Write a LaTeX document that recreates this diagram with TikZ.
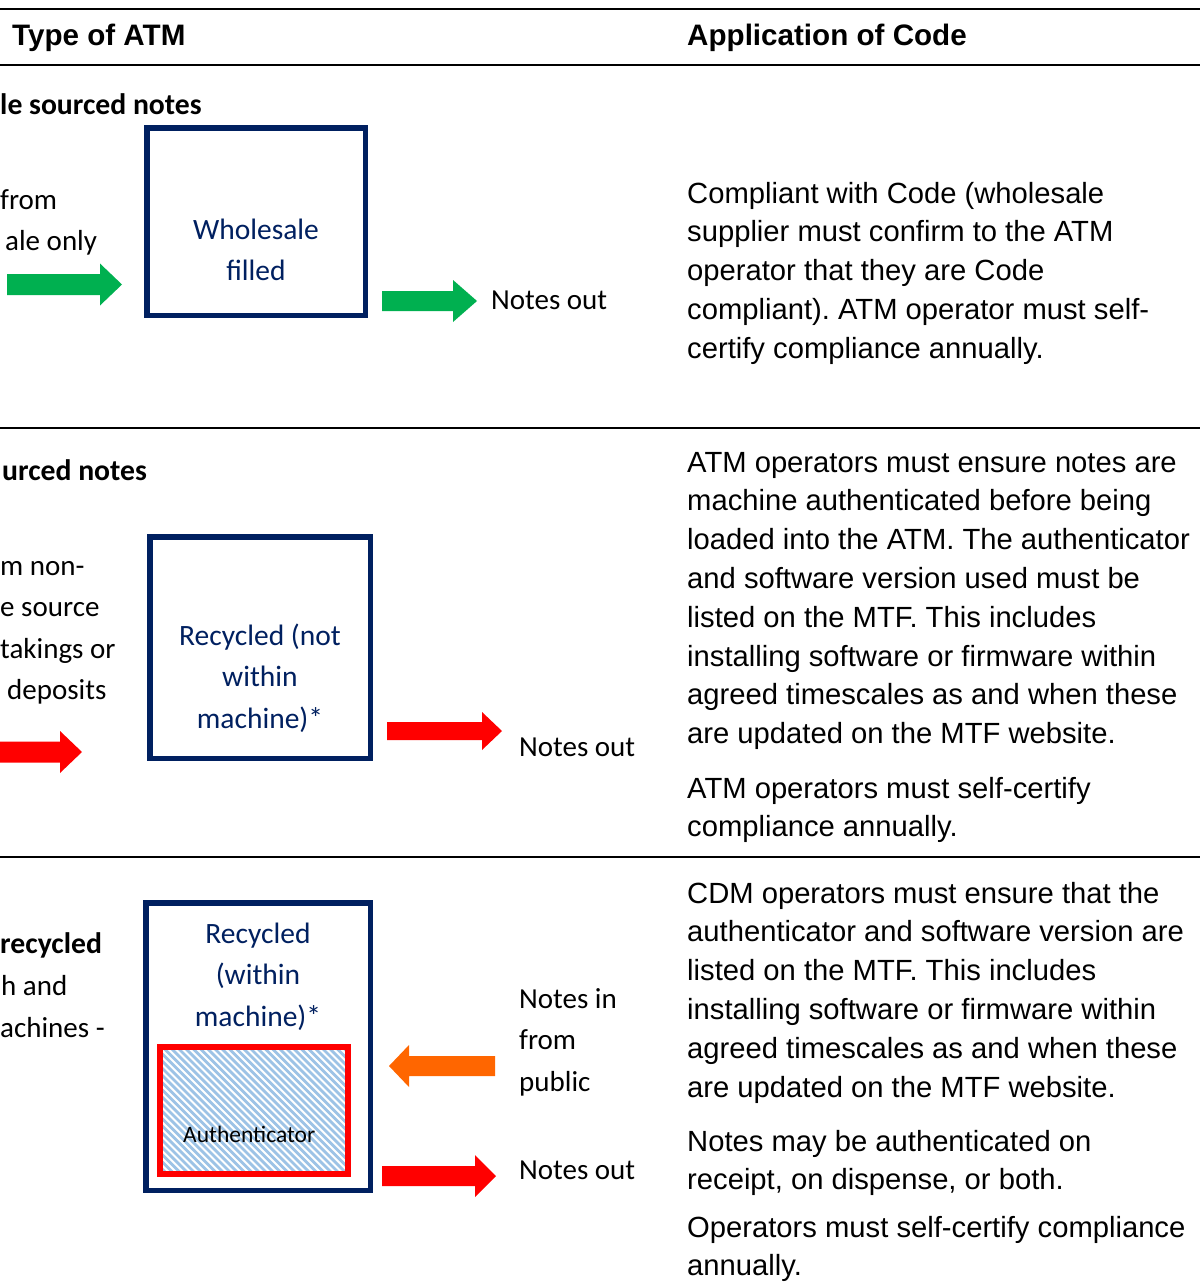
\documentclass[tikz,border=0pt]{standalone}
\usepackage{fontspec}
\setmainfont{Carlito}
\newfontfamily\arialf{Liberation Sans}
\definecolor{navy}{HTML}{002060}
\definecolor{grn}{HTML}{00B050}
\definecolor{org}{HTML}{FF6600}
\definecolor{redc}{HTML}{FF0000}
\definecolor{hatchc}{HTML}{9DC3E6}
% block arrow: colour, tail x, tip x, centre y, shaft half, head half, head length
\newcommand\blockarrow[7]{%
  \fill[#1] (#2,#4-#5) -- (#3-#7,#4-#5) -- (#3-#7,#4-#6) -- (#3,#4)
    -- (#3-#7,#4+#6) -- (#3-#7,#4+#5) -- (#2,#4+#5) -- cycle;}
\begin{document}
\frenchspacing
\begin{tikzpicture}[x=1pt,y=-1pt,
  cal/.style={font=\fontsize{29}{41.5}\selectfont, inner sep=0, anchor=base west},
  calb/.style={font=\bfseries\fontsize{29.7}{41.5}\selectfont, inner sep=0, anchor=base west},
  calgrp/.style={font=\fontsize{29}{41.5}\selectfont, inner sep=0, anchor=north west, align=left},
  ar/.style={font=\arialf\fontsize{29.2}{38.8}\selectfont, inner sep=0, anchor=north west, align=left},
  hd/.style={font=\arialf\bfseries\fontsize{29.6}{34}\selectfont, inner sep=0, anchor=base west},
  atmbox/.style={draw=navy, line width=5.5, inner sep=0, fill=white},
  boxtxt/.style={font=\fontsize{29.5}{41.5}\selectfont, text=navy, inner sep=0, anchor=north, align=center},
  rule/.style={line width=2.5, black}
]
\useasboundingbox (0,0) rectangle (1200,1285);
\clip (0,0) rectangle (1200,1285);

% table rules
\draw[rule] (0,9) -- (1200,9);
\draw[rule] (0,65) -- (1200,65);
\draw[rule] (0,428) -- (1200,428);
\draw[rule] (0,857) -- (1200,857);

% headers
\node[hd] (h1) at (12,45) {Type of ATM};
\node[hd] (h2) at (687,45) {Application of Code};

% ---------------- row 1 ----------------
\node[calb] (r1t) at (0,114) {le sourced notes};
\node[cal] (r1a) at (0,209) {from};
\node[cal] (r1b) at (5,250) {ale only};
\node[atmbox, minimum width=218.5, minimum height=187.5] (box1) at (256,221.5) {};
\node[boxtxt] (box1t) at (256,209.9) {\strut Wholesale\\filled};
\blockarrow{grn}{7}{122}{284.5}{10.5}{21}{22}
\blockarrow{grn}{382}{477}{301}{10}{21}{24}
\node[cal] (out1) at (491,309) {Notes out};
\node[ar] (p1) at (687,175.8) {\strut Compliant with Code (wholesale\\supplier must confirm to the ATM\\operator that they are Code\\compliant). ATM operator must self-\\certify compliance annually.};

% ---------------- row 2 ----------------
\node[calb] (r2t) at (2,480) {urced notes};
\node[cal] (r2a) at (0,575) {m non-};
\node[cal] (r2b) at (0,616.5) {e source};
\node[cal] (r2c) at (0,658) {takings or};
\node[cal] (r2d) at (7,699.5) {deposits};
\node[atmbox, minimum width=220.5, minimum height=221.5] (box2) at (260,647.5) {};
\node[boxtxt] (box2t) at (260,616) {\strut Recycled (not\\within\\machine)*};
\blockarrow{redc}{-5}{82}{752}{10.5}{21}{22}
\blockarrow{redc}{387}{502}{731}{9}{19}{20}
\node[cal] (out2) at (519,756) {Notes out};
\node[ar] (p2a) at (687,444.8) {\strut ATM operators must ensure notes are\\machine authenticated before being\\loaded into the ATM. The authenticator\\and software version used must be\\listed on the MTF. This includes\\installing software or firmware within\\agreed timescales as and when these\\are updated on the MTF website.};
\node[ar] (p2b) at (687,770.8) {\strut ATM operators must self-certify\\compliance annually.};

% ---------------- row 3 ----------------
\node[calb] (r3t) at (0,953) {recycled};
\node[cal] (r3a) at (1,995) {h and};
\node[cal] (r3b) at (0,1037) {achines -};
\node[atmbox, minimum width=224.5, minimum height=287.5] (box3) at (258,1046.5) {};
\node[boxtxt] (box3t) at (258,914) {\strut Recycled\\(within\\machine)*};
\node[inner sep=0, minimum width=188, minimum height=127] (auth) at (254,1110.5) {};
\begin{scope}
  \clip (auth.north west) rectangle (auth.south east);
  \foreach \k in {0,...,50}
    \draw[hatchc, line width=2.8] (\k*7.2-20,1030) -- ++(160,160);
\end{scope}
\draw[redc, line width=6] (auth.north west) rectangle (auth.south east);
\node[font=\fontsize{23.5}{28}\selectfont, inner sep=0, anchor=base west] (autht) at (183,1142) {Authenticator};
\blockarrow{org}{495}{389}{1066}{10}{21}{-20}
\blockarrow{redc}{382}{496}{1176}{10}{21}{21}
\node[calgrp] (in3) at (519,979.1) {\strut Notes in\\from\\public};
\node[cal] (out3) at (519,1179) {Notes out};
\node[ar] (p3a) at (687,875.8) {\strut CDM operators must ensure that the\\authenticator and software version are\\listed on the MTF. This includes\\installing software or firmware within\\agreed timescales as and when these\\are updated on the MTF website.};
\node[ar] (p3b) at (687,1123.8) {\strut Notes may be authenticated on\\receipt, on dispense, or both.};
\node[ar] (p3c) at (687,1209.8) {\strut Operators must self-certify compliance\\annually.};
\end{tikzpicture}
\end{document}
